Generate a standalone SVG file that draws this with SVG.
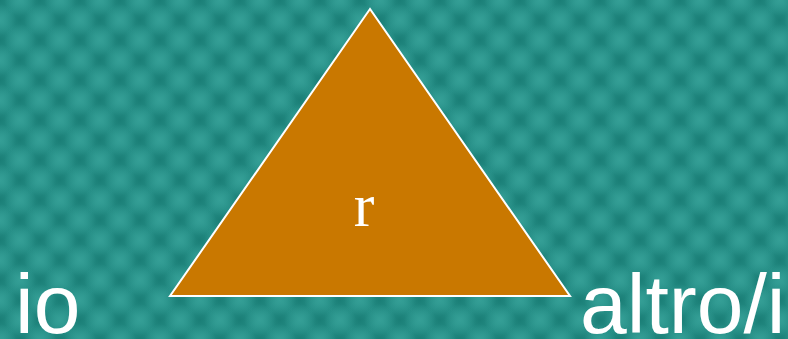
<svg xmlns="http://www.w3.org/2000/svg" width="788" height="339" viewBox="0 0 788 339">
  <defs>
    <radialGradient id="dk">
      <stop offset="0" stop-color="#187b73" stop-opacity="0.85"/>
      <stop offset="1" stop-color="#187b73" stop-opacity="0"/>
    </radialGradient>
    <radialGradient id="lt">
      <stop offset="0" stop-color="#38a299" stop-opacity="0.8"/>
      <stop offset="1" stop-color="#38a299" stop-opacity="0"/>
    </radialGradient>
    <pattern id="tex" width="40" height="40" patternUnits="userSpaceOnUse">
      <rect width="40" height="40" fill="#28928a"/>
      <circle cx="0" cy="0" r="17" fill="url(#dk)"/>
      <circle cx="40" cy="0" r="17" fill="url(#dk)"/>
      <circle cx="0" cy="40" r="17" fill="url(#dk)"/>
      <circle cx="40" cy="40" r="17" fill="url(#dk)"/>
      <circle cx="20" cy="20" r="17" fill="url(#dk)"/>
      <circle cx="20" cy="0" r="16" fill="url(#lt)"/>
      <circle cx="20" cy="40" r="16" fill="url(#lt)"/>
      <circle cx="0" cy="20" r="16" fill="url(#lt)"/>
      <circle cx="40" cy="20" r="16" fill="url(#lt)"/>
    </pattern>
    <style>
      .lbl { font-family: "Liberation Sans", Arial, sans-serif; font-size: 84px; fill: #ffffff; }
      .in { font-family: "Liberation Serif", "Times New Roman", serif; font-size: 62px; fill: #ffffff; }
    </style>
  </defs>
  <rect width="788" height="339" fill="url(#tex)"/>
  <g id="triangle">
    <polygon points="370,9 170,296 570,296" fill="#c97800" stroke="#ffffff" stroke-width="2" stroke-linejoin="miter"/>
    <text class="in" x="364" y="226" text-anchor="middle">r</text>
  </g>
  <g id="io">
    <text class="lbl" x="15" y="333">io</text>
  </g>
  <g id="altro">
    <text class="lbl" x="580" y="333">altro/i</text>
  </g>
  <g id="connectors"/>
</svg>
